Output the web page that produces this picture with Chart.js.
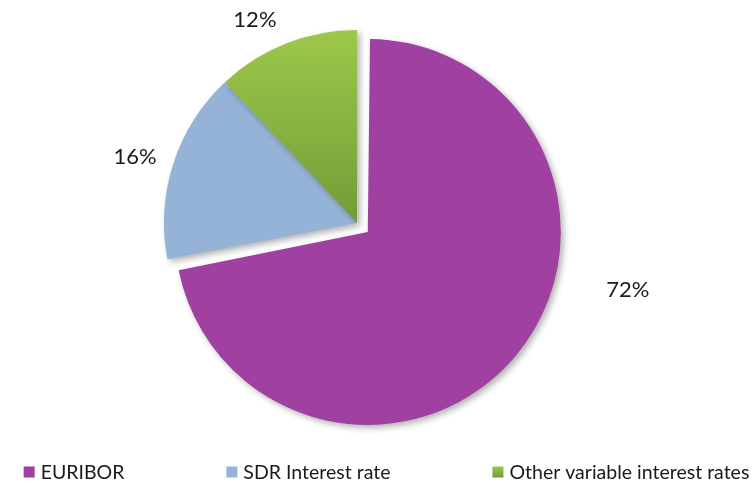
<!DOCTYPE html>
<html>
<head>
<meta charset="utf-8">
<script src="https://cdn.jsdelivr.net/npm/chart.js@4"></script>
<style>
    html, body { margin: 0; padding: 0; background: #ffffff; }
</style>
</head>
<body>
<canvas id="rateChart" width="755" height="485"></canvas>
<script>
// ---------------------------------------------
// Data
// ---------------------------------------------
const categories = ["EURIBOR", "SDR Interest rate", "Other variable interest rates"];
const shares = [72, 16, 12];
const pctLabels = ["72%", "16%", "12%"];

// ---------------------------------------------
// Styling
// ---------------------------------------------
const sliceColors = ["#A040A1", "#95B3D7", "#8DB744"];
const sliceOffsets = [56, 0, 0];           // pulls EURIBOR out from the centre
const PIE_RADIUS = 193;
const FONT = "Lato, 'Liberation Sans', sans-serif";
const TEXT_COLOR = "#1a1a1a";

// percent label spot: clockwise angle from 12 o'clock (deg), distance in radii
const labelSpots = [
    { angle: 103.9, dist: 1.446 },
    { angle: 286.6, dist: 1.20 },
    { angle: 333.3, dist: 1.177 }
];

// green slice gets a top-to-bottom gradient
function sliceFill(c) {
    const i = c.dataIndex;
    if (i !== 2) return sliceColors[i];
    const area = c.chart.chartArea;
    if (!area) return sliceColors[i];
    const cy = (area.top + area.bottom) / 2;
    const g = c.chart.ctx.createLinearGradient(0, cy - PIE_RADIUS, 0, cy);
    g.addColorStop(0, "#9DC84B");
    g.addColorStop(1, "#739C37");
    return g;
}

// chart.js grows an offset arc's radius by offset/4 (for slices over half) -
// shrink it back so the pulled-out slice keeps the same size as the rest
const keepRadius = {
    id: "keepRadius",
    afterDatasetUpdate(chart) {
        const arcs = chart.getDatasetMeta(0).data;
        arcs.forEach((arc, i) => {
            if (sliceOffsets[i] && shares[i] > 50) {
                arc.outerRadius = PIE_RADIUS - sliceOffsets[i] / 4;
            }
        });
    }
};

// soft drop shadow under the slices
const sliceShadow = {
    id: "sliceShadow",
    beforeDatasetsDraw(chart) {
        const ctx = chart.ctx;
        ctx.save();
        ctx.shadowColor = "rgba(0,0,0,0.30)";
        ctx.shadowBlur = 6;
        ctx.shadowOffsetX = 3;
        ctx.shadowOffsetY = 3;
    },
    afterDatasetsDraw(chart) {
        chart.ctx.restore();
    }
};

// percent labels outside the pie
const pctLabelPlugin = {
    id: "pctLabels",
    afterDatasetsDraw(chart) {
        const ctx = chart.ctx;
        const arcs = chart.getDatasetMeta(0).data;
        if (!arcs.length) return;
        const cx = arcs[1].x, cy = arcs[1].y, r = PIE_RADIUS;
        ctx.save();
        ctx.font = "22px " + FONT;
        ctx.fillStyle = TEXT_COLOR;
        ctx.textAlign = "center";
        ctx.textBaseline = "middle";
        pctLabels.forEach((txt, i) => {
            const a = labelSpots[i].angle * Math.PI / 180;
            const d = labelSpots[i].dist * r;
            ctx.fillText(txt, cx + Math.sin(a) * d, cy - Math.cos(a) * d);
        });
        ctx.restore();
    }
};

// wide-spaced legend row along the bottom
const bottomLegend = {
    id: "bottomLegend",
    afterDraw(chart) {
        const ctx = chart.ctx;
        const box = 11, gapText = 6, gapItem = 102, y = 472;
        ctx.save();
        ctx.font = "19.5px " + FONT;
        ctx.textBaseline = "middle";
        const widths = categories.map(t => box + gapText + ctx.measureText(t).width);
        const total = widths.reduce((a, b) => a + b, 0) + gapItem * (categories.length - 1);
        let x = (chart.width - total) / 2 + 9;
        categories.forEach((t, i) => {
            if (i === 2) {
                const g = ctx.createLinearGradient(0, y - box / 2, 0, y + box / 2);
                g.addColorStop(0, "#9DC84B");
                g.addColorStop(1, "#739C37");
                ctx.fillStyle = g;
            } else {
                ctx.fillStyle = sliceColors[i];
            }
            ctx.fillRect(x, y - box / 2, box, box);
            ctx.fillStyle = TEXT_COLOR;
            ctx.fillText(t, x + box + gapText, y + 1);
            x += widths[i] + gapItem;
        });
        ctx.restore();
    }
};

// ---------------------------------------------
// Chart
// ---------------------------------------------
new Chart(document.getElementById("rateChart"), {
    type: "pie",
    data: {
        labels: categories,
        datasets: [{
            data: shares,
            backgroundColor: sliceFill,
            borderWidth: 0,
            offset: sliceOffsets,
            hoverOffset: 0
        }]
    },
    options: {
        responsive: false,
        devicePixelRatio: 1,
        animation: false,
        radius: PIE_RADIUS,
        layout: { padding: { left: 0, right: 41, top: 0, bottom: 39 } },
        plugins: {
            legend: { display: false },
            tooltip: { enabled: false }
        }
    },
    plugins: [keepRadius, sliceShadow, pctLabelPlugin, bottomLegend]
});
</script>
</body>
</html>
